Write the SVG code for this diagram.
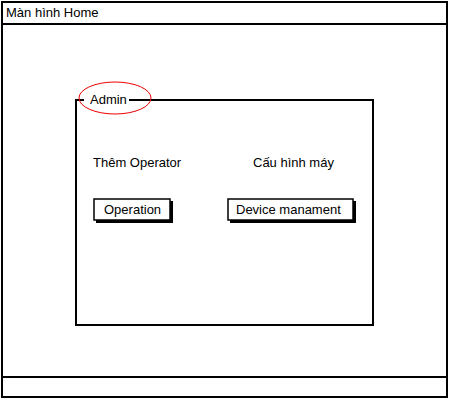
<svg xmlns="http://www.w3.org/2000/svg" width="450" height="400" viewBox="0 0 450 400">
<style>
.frame{fill:#fff;stroke:#000;stroke-width:2}
.t{font-family:"Liberation Sans",Arial,sans-serif;font-size:13px;fill:#000}
.btn{fill:#fff;stroke:#000;stroke-width:1.5}
.shadow{fill:#000}
</style>
<rect width="450" height="400" fill="#fff"/>
<g id="window">
<rect class="frame" x="2" y="2" width="445" height="395"/>
<line x1="2" y1="24" x2="447" y2="24" stroke="#000" stroke-width="2"/>
<line x1="2" y1="377" x2="447" y2="377" stroke="#000" stroke-width="2"/>
<text class="t" x="6" y="17">Màn hình Home</text>
</g>
<g id="admin">
<path d="M84,100 H76 V325 H373 V100 H129" fill="none" stroke="#000" stroke-width="2"/>
<text class="t" x="90" y="104">Admin</text>
<ellipse cx="115" cy="98" rx="36" ry="16" fill="none" stroke="#e00" stroke-width="1"/>
</g>
<g id="them-operator"><text class="t" x="93" y="167">Thêm Operator</text></g>
<g id="cau-hinh"><text class="t" x="253" y="167">Cấu hình máy</text></g>
<g id="btn-operation">
<rect class="shadow" x="96" y="201" width="77" height="22"/>
<rect class="btn" x="94" y="199" width="76" height="21"/>
<text class="t" x="104" y="214">Operation</text>
</g>
<g id="btn-device">
<rect class="shadow" x="230" y="201" width="126" height="22"/>
<rect class="btn" x="228" y="199" width="125" height="21"/>
<text class="t" x="236" y="214">Device manament</text>
</g>
<g id="connectors"></g>
</svg>
